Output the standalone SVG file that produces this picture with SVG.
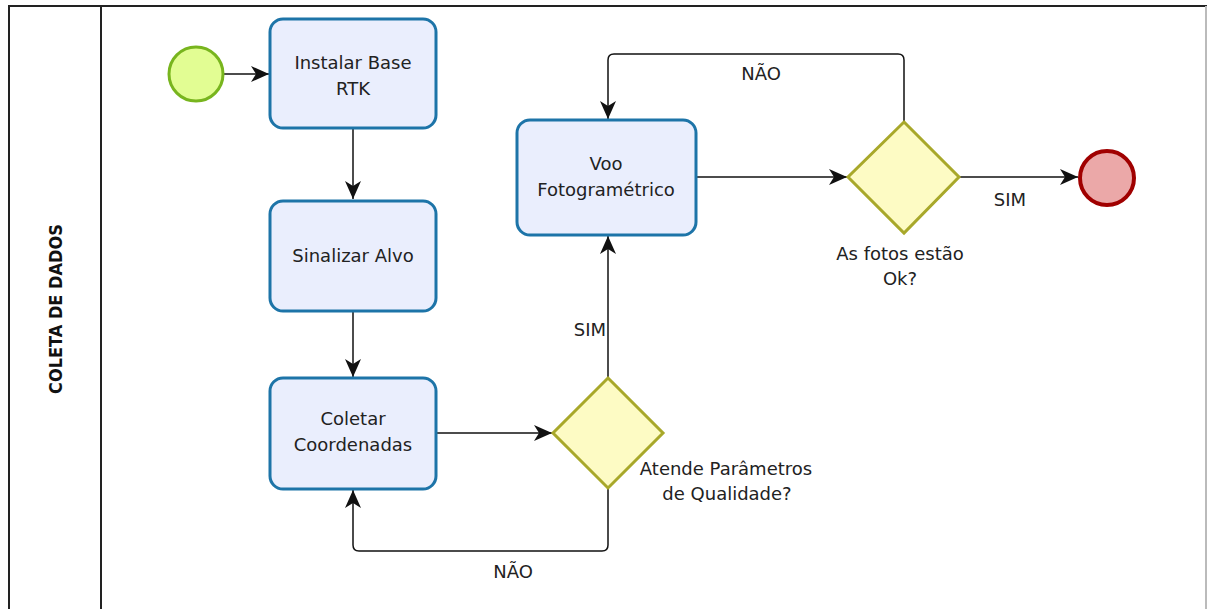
<svg xmlns="http://www.w3.org/2000/svg" width="1207" height="609" viewBox="0 0 1207 609">
<style>
.task{fill:#eaeefd;stroke:#1d74a8;stroke-width:3}
.gw{fill:#fdfbc4;stroke:#a8a82a;stroke-width:3}
.conn{fill:none;stroke:#111;stroke-width:1.5}
.t{font-family:"DejaVu Sans",sans-serif;font-size:18px;fill:#222;text-anchor:middle}
</style>
<defs>
<marker id="arr" markerWidth="20" markerHeight="16" viewBox="0 0 20 16" refX="18" refY="8" orient="auto" markerUnits="userSpaceOnUse">
<path d="M0,0 L18,8 L0,16 L5,8 Z" fill="#111"/>
</marker>
</defs>
<rect x="0" y="0" width="1207" height="609" fill="#fff"/>
<g id="lane">
<path d="M9,620 V6 H1207" fill="none" stroke="#222" stroke-width="2"/>
<line x1="1206" y1="6" x2="1206" y2="609" stroke="#bbb" stroke-width="2"/>
<line x1="101" y1="6" x2="101" y2="609" stroke="#222" stroke-width="2"/>
<text transform="translate(62,309) rotate(-90)" font-family="'DejaVu Sans Condensed','DejaVu Sans',sans-serif" font-size="18" font-weight="bold" text-anchor="middle" fill="#111">COLETA DE DADOS</text>
</g>
<g id="connectors">
<line class="conn" x1="223" y1="74" x2="269" y2="74" marker-end="url(#arr)"/>
<line class="conn" x1="353" y1="128" x2="353" y2="199" marker-end="url(#arr)"/>
<line class="conn" x1="353" y1="311" x2="353" y2="377" marker-end="url(#arr)"/>
<line class="conn" x1="436" y1="433" x2="552" y2="433" marker-end="url(#arr)"/>
<path class="conn" d="M608,488 V545 Q608,551 602,551 H359 Q353,551 353,545 V490" marker-end="url(#arr)"/>
<line class="conn" x1="608" y1="378" x2="608" y2="236" marker-end="url(#arr)"/>
<line class="conn" x1="696" y1="177" x2="847" y2="177" marker-end="url(#arr)"/>
<path class="conn" d="M904,122 V60 Q904,54 898,54 H614 Q608,54 608,60 V119" marker-end="url(#arr)"/>
<line class="conn" x1="959" y1="177" x2="1078" y2="177" marker-end="url(#arr)"/>
<text class="t" x="513" y="578">NÃO</text>
<text class="t" x="590" y="336">SIM</text>
<text class="t" x="761" y="80">NÃO</text>
<text class="t" x="1010" y="206">SIM</text>
</g>
<g id="start"><circle cx="196" cy="74" r="27" fill="#e2fd93" stroke="#78b51e" stroke-width="3"/></g>
<g id="task1"><rect class="task" x="270" y="19" width="166" height="109" rx="13"/><text class="t" x="353" y="69">Instalar Base</text><text class="t" x="353" y="95">RTK</text></g>
<g id="task2"><rect class="task" x="270" y="201" width="166" height="110" rx="13"/><text class="t" x="353" y="262">Sinalizar Alvo</text></g>
<g id="task3"><rect class="task" x="270" y="378" width="166" height="111" rx="13"/><text class="t" x="353" y="425">Coletar</text><text class="t" x="353" y="451">Coordenadas</text></g>
<g id="task4"><rect class="task" x="517" y="120" width="179" height="115" rx="13"/><text class="t" x="606" y="170">Voo</text><text class="t" x="606" y="196">Fotogramétrico</text></g>
<g id="gw1"><path class="gw" d="M608,378 L663,433 L608,488 L553,433 Z"/><text class="t" x="726" y="475">Atende Parâmetros</text><text class="t" x="727" y="500">de Qualidade?</text></g>
<g id="gw2"><path class="gw" d="M904,122 L959,177 L904,233 L848,177 Z"/><text class="t" x="900" y="260">As fotos estão</text><text class="t" x="900" y="285">Ok?</text></g>
<g id="end"><circle cx="1107" cy="178" r="27" fill="#eba8a8" stroke="#a00000" stroke-width="4"/></g>
</svg>
